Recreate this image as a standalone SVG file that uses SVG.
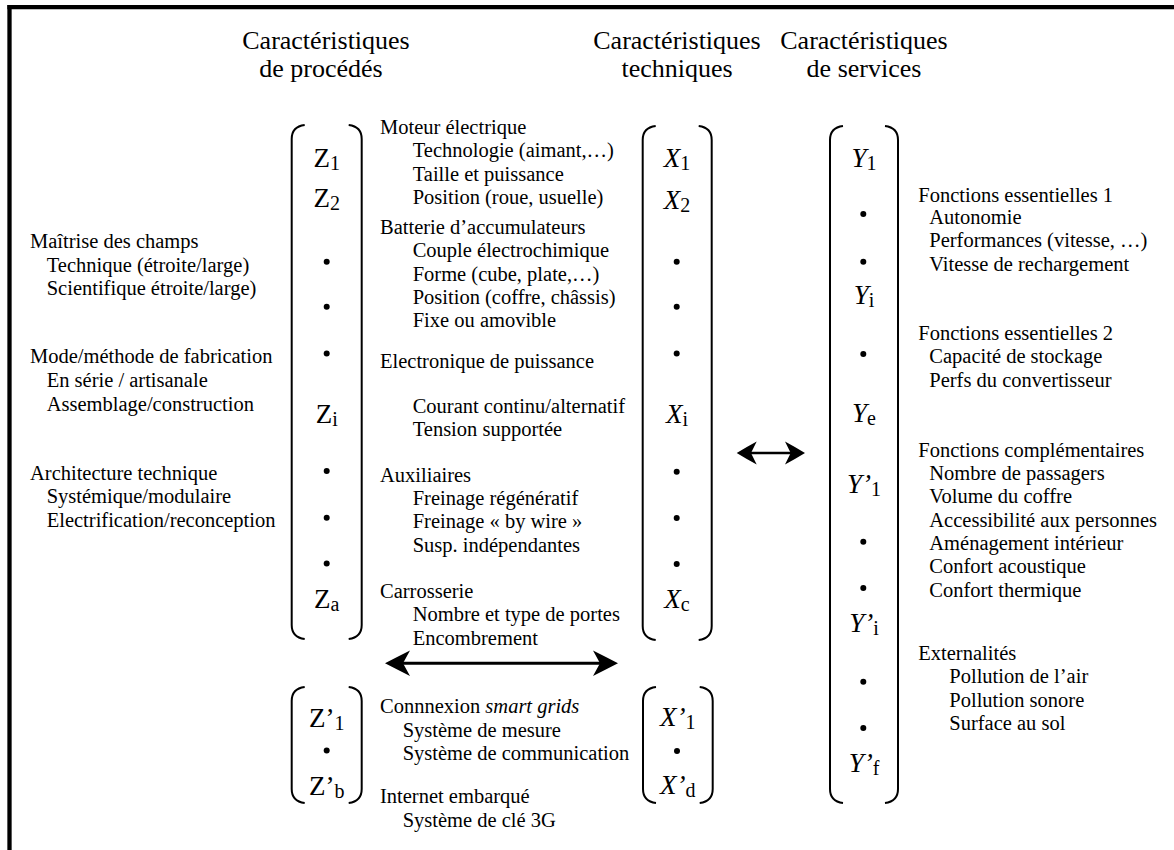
<svg xmlns="http://www.w3.org/2000/svg" width="1174" height="850" viewBox="0 0 1174 850">
<style>
.t{font-family:"Liberation Serif","Times New Roman",serif;font-size:20.5px;fill:#000}
.h{font-family:"Liberation Serif","Times New Roman",serif;font-size:26px;fill:#000;text-anchor:middle}
.m{font-family:"Liberation Serif","Times New Roman",serif;font-size:27px;fill:#000;text-anchor:middle}
.it{font-style:italic}
.sub{font-size:20px;font-style:normal}
.br{fill:none;stroke:#000;stroke-width:2}
.frame{stroke:#000;stroke-width:4.3;fill:none}
.shaft{stroke:#000;fill:none}
.head{fill:#000;stroke:none}
</style>
<rect width="1174" height="850" fill="#fff"/>
<g id="frame">
<line class="frame" x1="7.4" y1="7.2" x2="1174" y2="7.2"/>
<line class="frame" x1="9.5" y1="5" x2="9.5" y2="850"/>
</g>
<g id="headers">
<text class="h" x="326" y="49.3">Caractéristiques</text>
<text class="h" x="321" y="77.3">de procédés</text>
<text class="h" x="677" y="49.3">Caractéristiques</text>
<text class="h" x="677" y="77.3">techniques</text>
<text class="h" x="864" y="49.3">Caractéristiques</text>
<text class="h" x="864" y="77.3">de services</text>
</g>
<g id="matrix-Z">
<path class="br" d="M304.7,125 C296.7,126 291.7,130 291.7,139 L291.7,625 C291.7,634 296.7,638 304.7,639"/>
<path class="br" d="M348.7,125 C356.7,126 361.7,130 361.7,139 L361.7,625 C361.7,634 356.7,638 348.7,639"/>
<text class="m" x="326.7" y="167">Z<tspan class="sub" dy="3">1</tspan></text>
<text class="m" x="326.7" y="207">Z<tspan class="sub" dy="3">2</tspan></text>
<circle cx="326.7" cy="261.7" r="3"/>
<circle cx="326.7" cy="306.7" r="3"/>
<circle cx="326.7" cy="353.5" r="3"/>
<text class="m" x="326.7" y="423">Z<tspan class="sub" dy="3">i</tspan></text>
<circle cx="326.7" cy="471" r="3"/>
<circle cx="326.7" cy="517.7" r="3"/>
<circle cx="326.7" cy="563.5" r="3"/>
<text class="m" x="326.7" y="608">Z<tspan class="sub" dy="3">a</tspan></text>
</g>
<g id="matrix-X">
<path class="br" d="M655.7,126 C647.7,127 642.7,131 642.7,140 L642.7,626 C642.7,635 647.7,639 655.7,640"/>
<path class="br" d="M698.7,126 C706.7,127 711.7,131 711.7,140 L711.7,626 C711.7,635 706.7,639 698.7,640"/>
<text class="m it" x="677" y="167">X<tspan class="sub" dy="3">1</tspan></text>
<text class="m it" x="677" y="209">X<tspan class="sub" dy="3">2</tspan></text>
<circle cx="676.7" cy="261.7" r="3"/>
<circle cx="676.7" cy="306.7" r="3"/>
<circle cx="676.7" cy="353.5" r="3"/>
<text class="m it" x="677" y="423">X<tspan class="sub" dy="3">i</tspan></text>
<circle cx="676.7" cy="471.7" r="3"/>
<circle cx="676.7" cy="518" r="3"/>
<circle cx="676.7" cy="564" r="3"/>
<text class="m it" x="677" y="608">X<tspan class="sub" dy="3">c</tspan></text>
</g>
<g id="matrix-Y">
<path class="br" d="M843,126 C835,127 830,131 830,140 L830,789 C830,798 835,802 843,803"/>
<path class="br" d="M885,126 C893,127 898,131 898,140 L898,789 C898,798 893,802 885,803"/>
<text class="m it" x="864" y="167">Y<tspan class="sub" dy="3">1</tspan></text>
<circle cx="863.3" cy="214" r="3"/>
<circle cx="863.3" cy="261.7" r="3"/>
<text class="m it" x="864" y="304">Y<tspan class="sub" dy="3">i</tspan></text>
<circle cx="863.3" cy="354" r="3"/>
<text class="m it" x="864" y="422">Y<tspan class="sub" dy="3">e</tspan></text>
<text class="m it" x="864" y="493">Y’<tspan class="sub" dy="3">1</tspan></text>
<circle cx="863.3" cy="541.7" r="3"/>
<circle cx="863.3" cy="588" r="3"/>
<text class="m it" x="864" y="631.7">Y’<tspan class="sub" dy="3">i</tspan></text>
<circle cx="863.3" cy="681.7" r="3"/>
<circle cx="863.3" cy="728" r="3"/>
<text class="m it" x="864" y="771.7">Y’<tspan class="sub" dy="3">f</tspan></text>
</g>
<g id="matrix-Zp">
<path class="br" d="M304.7,687 C296.7,688 291.7,692 291.7,701 L291.7,789 C291.7,798 296.7,802 304.7,803"/>
<path class="br" d="M348.7,687 C356.7,688 361.7,692 361.7,701 L361.7,789 C361.7,798 356.7,802 348.7,803"/>
<text class="m" x="326.7" y="727">Z’<tspan class="sub" dy="3">1</tspan></text>
<circle cx="326.7" cy="750.5" r="3"/>
<text class="m" x="326.7" y="795">Z’<tspan class="sub" dy="3">b</tspan></text>
</g>
<g id="matrix-Xp">
<path class="br" d="M656,687 C648,688 643,692 643,701 L643,789 C643,798 648,802 656,803"/>
<path class="br" d="M699.7,687 C707.7,688 712.7,692 712.7,701 L712.7,789 C712.7,798 707.7,802 699.7,803"/>
<text class="m it" x="677.7" y="726">X’<tspan class="sub" dy="3">1</tspan></text>
<circle cx="677" cy="751" r="3"/>
<text class="m it" x="677.7" y="794">X’<tspan class="sub" dy="3">d</tspan></text>
</g>
<g id="process-list">
<text class="t" x="30" y="248.3">Maîtrise des champs</text>
<text class="t" x="46.7" y="271.7">Technique (étroite/large)</text>
<text class="t" x="46.7" y="295">Scientifique étroite/large)</text>
<text class="t" x="30" y="363.3">Mode/méthode de fabrication</text>
<text class="t" x="46.7" y="386.7">En série / artisanale</text>
<text class="t" x="46.7" y="410.5">Assemblage/construction</text>
<text class="t" x="30" y="480">Architecture technique</text>
<text class="t" x="46.7" y="503.3">Systémique/modulaire</text>
<text class="t" x="46.7" y="526.7">Electrification/reconception</text>
</g>
<g id="technical-list">
<text class="t" x="380" y="134">Moteur électrique</text>
<text class="t" x="412.7" y="157.3">Technologie (aimant,…)</text>
<text class="t" x="412.7" y="180.7">Taille et puissance</text>
<text class="t" x="412.7" y="204">Position (roue, usuelle)</text>
<text class="t" x="380" y="234">Batterie d’accumulateurs</text>
<text class="t" x="412.7" y="257.3">Couple électrochimique</text>
<text class="t" x="412.7" y="280.7">Forme (cube, plate,…)</text>
<text class="t" x="412.7" y="304">Position (coffre, châssis)</text>
<text class="t" x="412.7" y="327.3">Fixe ou amovible</text>
<text class="t" x="380" y="367.7">Electronique de puissance</text>
<text class="t" x="412.7" y="413">Courant continu/alternatif</text>
<text class="t" x="412.7" y="436.3">Tension supportée</text>
<text class="t" x="380" y="481.7">Auxiliaires</text>
<text class="t" x="412.7" y="505">Freinage régénératif</text>
<text class="t" x="412.7" y="528.3">Freinage « by wire »</text>
<text class="t" x="412.7" y="551.7">Susp. indépendantes</text>
<text class="t" x="380" y="598">Carrosserie</text>
<text class="t" x="412.7" y="621.3">Nombre et type de portes</text>
<text class="t" x="412.7" y="644.7">Encombrement</text>
</g>
<g id="connected-list">
<text class="t" x="380" y="713.3">Connnexion <tspan font-style="italic">smart grids</tspan></text>
<text class="t" x="402.7" y="737">Système de mesure</text>
<text class="t" x="402.7" y="760">Système de communication</text>
<text class="t" x="380" y="803.3">Internet embarqué</text>
<text class="t" x="402.7" y="826.7">Système de clé 3G</text>
</g>
<g id="services-list">
<text class="t" x="918.3" y="201.7">Fonctions essentielles 1</text>
<text class="t" x="929.3" y="224">Autonomie</text>
<text class="t" x="929.3" y="247.3">Performances (vitesse, …)</text>
<text class="t" x="929.3" y="270.7">Vitesse de rechargement</text>
<text class="t" x="918.3" y="340">Fonctions essentielles 2</text>
<text class="t" x="929.3" y="363.3">Capacité de stockage</text>
<text class="t" x="929.3" y="386.7">Perfs du convertisseur</text>
<text class="t" x="918.3" y="456.7">Fonctions complémentaires</text>
<text class="t" x="929.3" y="480">Nombre de passagers</text>
<text class="t" x="929.3" y="503.3">Volume du coffre</text>
<text class="t" x="929.3" y="526.7">Accessibilité aux personnes</text>
<text class="t" x="929.3" y="550">Aménagement intérieur</text>
<text class="t" x="929.3" y="573.3">Confort acoustique</text>
<text class="t" x="929.3" y="596.7">Confort thermique</text>
<text class="t" x="918.3" y="660">Externalités</text>
<text class="t" x="949.3" y="683.3">Pollution de l’air</text>
<text class="t" x="949.3" y="706.7">Pollution sonore</text>
<text class="t" x="949.3" y="730">Surface au sol</text>
</g>
<g id="connectors">
<line class="shaft" x1="400" y1="663.3" x2="603" y2="663.3" stroke-width="3"/>
<path class="head" d="M385,663.3 Q397,657 410,650.5 L403,663.3 L410,676 Q397,669.5 385,663.3 Z"/>
<path class="head" d="M618,663.3 Q606,657 593,650.5 L600,663.3 L593,676 Q606,669.5 618,663.3 Z"/>
<line class="shaft" x1="748" y1="453" x2="794" y2="453" stroke-width="2.7"/>
<path class="head" d="M736.7,453 Q746.5,447 756.7,441.5 L751,453 L756.7,464.5 Q746.5,459 736.7,453 Z"/>
<path class="head" d="M805,453 Q795.2,447 785,441.5 L790.7,453 L785,464.5 Q795.2,459 805,453 Z"/>
</g>
</svg>
